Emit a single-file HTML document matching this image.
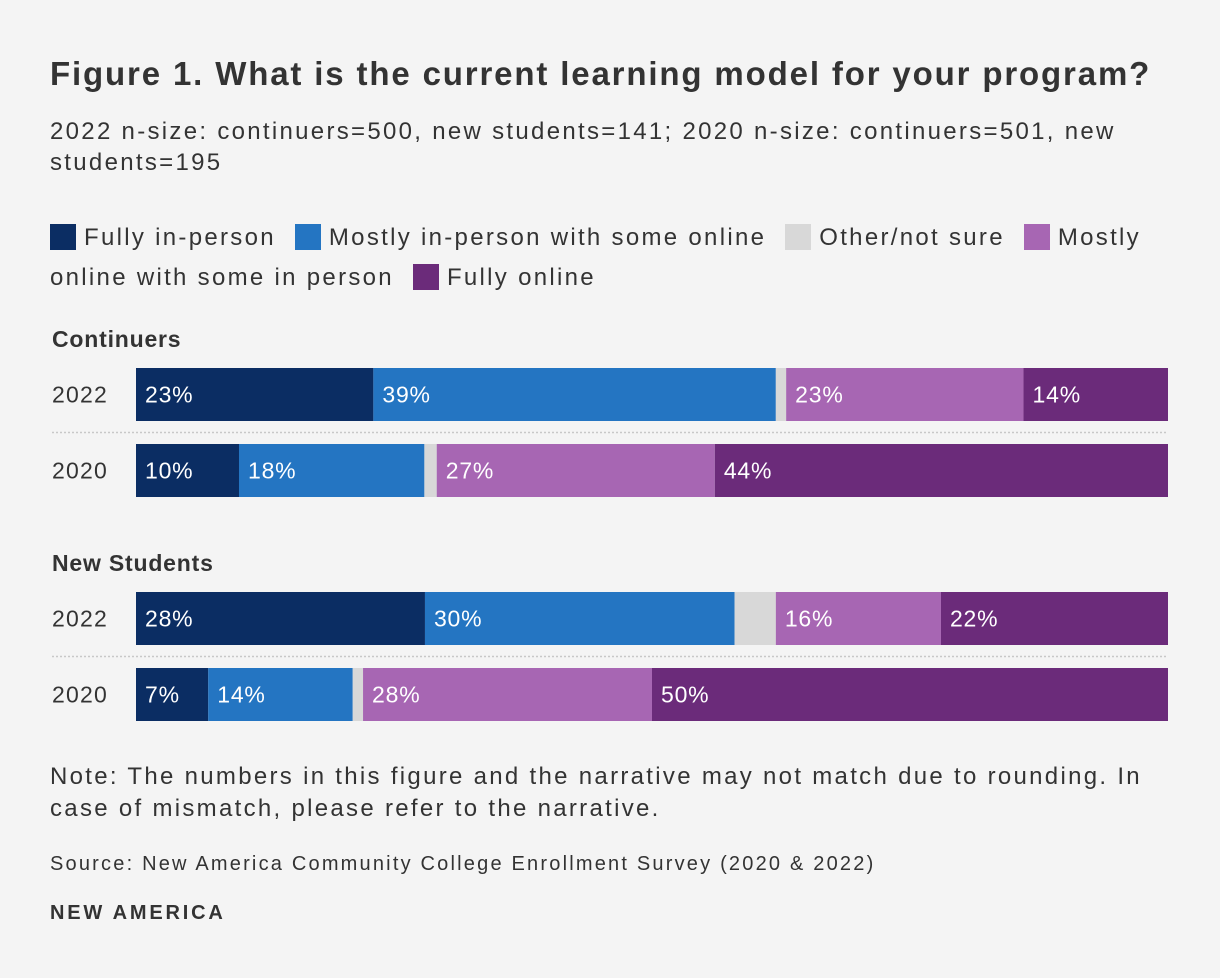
<!DOCTYPE html>
<html><head><meta charset="utf-8">
<style>
body{margin:0;background:#f4f4f4;width:1220px;height:978px;overflow:hidden;font-family:"Liberation Sans",sans-serif;color:#333;}
.t{position:absolute;white-space:nowrap;}
</style></head><body>
<div class="t" style="left:50px;top:55px;font-size:33px;letter-spacing:1.85px;font-weight:bold;color:#333;">Figure 1. What is the current learning model for your program?</div>
<div class="t" style="left:50px;top:116px;font-size:24px;letter-spacing:2.3px;line-height:31px;">2022 n-size: continuers=500, new students=141; 2020 n-size: continuers=501, new<br>students=195</div>
<div id="legend" style="position:absolute;left:50px;top:218px;width:1160px;font-size:24px;letter-spacing:2.3px;line-height:40px;"></div>
<svg id="chart" width="1220" height="978" style="position:absolute;left:0;top:0;"></svg>
<div class="t" style="left:50px;top:761px;font-size:24px;letter-spacing:2.3px;line-height:32px;">Note: The numbers in this figure and the narrative may not match due to rounding. In<br>case of mismatch, please refer to the narrative.</div>
<div class="t" style="left:50px;top:853px;font-size:20px;letter-spacing:2.2px;">Source: New America Community College Enrollment Survey (2020 &amp; 2022)</div>
<div class="t" style="left:50px;top:902px;font-size:20px;letter-spacing:2.8px;font-weight:bold;">NEW AMERICA</div>
<script>
const seriesNames=["Fully in-person","Mostly in-person with some online","Other/not sure","Mostly online with some in person","Fully online"];
const colors=["#0b2d63","#2475c2","#d8d8d8","#a766b3","#6b2b7a"];
const groups=["Continuers","New Students"];
const years=["2022","2020"];
const contin2022=[23,39,1,23,14];
const contin2020=[10,18,1.2,27,44];
const new2022=[28,30,4,16,22];
const new2020=[7,14,1,28,50];
const data=[[contin2022,contin2020],[new2022,new2020]];
const labels=[[["23%","39%","","23%","14%"],["10%","18%","","27%","44%"]],[["28%","30%","","16%","22%"],["7%","14%","","28%","50%"]]];

const leg=document.getElementById('legend');
seriesNames.forEach((n,i)=>{
  const s=document.createElement('span');
  
  
  s.style.marginRight='10px';
  const sw='<span style="display:inline-block;width:26px;height:26px;background:'+colors[i]+';vertical-align:-5px;margin-right:8px"></span>';
  if(i==3){s.innerHTML=sw+'Mostly<br>online with some in person';}
  else {s.innerHTML=sw+n;s.style.whiteSpace='nowrap';}
  leg.appendChild(s);leg.appendChild(document.createTextNode(' '));
});

const svg=document.getElementById('chart');
const NS='http://www.w3.org/2000/svg';
const x0=136,x1=1168;
const xs=v=>v/100*(x1-x0);
const groupTop=[368,592],rowGap=76,barH=53;
function el(t,a){const e=document.createElementNS(NS,t);for(const k in a)e.setAttribute(k,a[k]);svg.appendChild(e);return e;}
groups.forEach((g,gi)=>{
  const gt=el('text',{x:52,y:groupTop[gi]-21,'font-size':23,'letter-spacing':0.8,'font-weight':'bold',fill:'#333'});
  gt.textContent=g;
  
  
  years.forEach((yr,ri)=>{
    const y=groupTop[gi]+ri*rowGap;
    const yl=el('text',{x:52,y:y+barH/2+8,'font-size':23,'letter-spacing':1.2,fill:'#333'});
    yl.textContent=yr;
    
    
    const vals=data[gi][ri];const tot=vals.reduce((a,b)=>a+b,0);
    let cx=x0;
    vals.forEach((v,si)=>{
      const w=xs(v/tot*100);
      const r=el('rect',{x:cx,y:y,width:w,height:barH,fill:colors[si]});
      
      
      const lb=labels[gi][ri][si];
      if(lb){const t=el('text',{x:cx+9,y:y+barH/2+8,'font-size':23,'letter-spacing':0.8,fill:'#fff'});t.textContent=lb;
        
        }
      cx+=w;
    });
    if(ri==0){const l=el('line',{x1:52,x2:x1,y1:y+barH+11.5,y2:y+barH+11.5,stroke:'#c8c8c8','stroke-width':1.5,'stroke-dasharray':'2,2'});
      
      }
  });
});
</script>
</body></html>
